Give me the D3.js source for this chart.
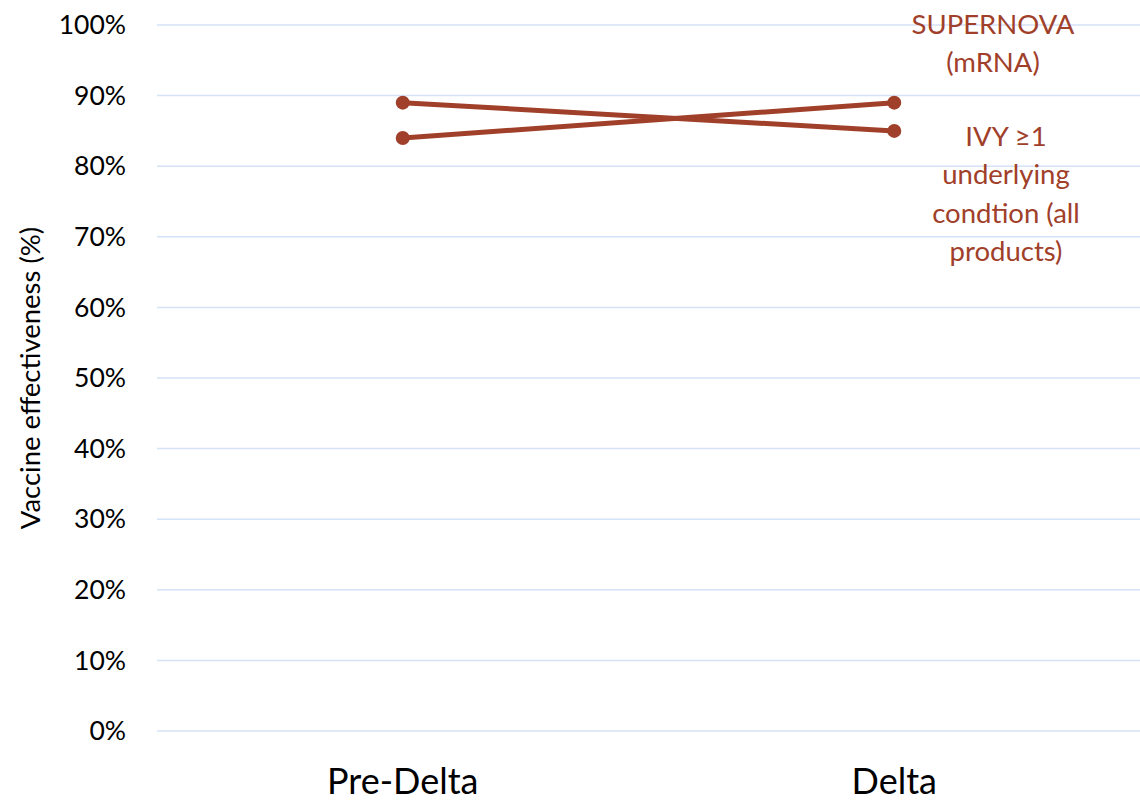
<!DOCTYPE html>
<html>
<head>
<meta charset="utf-8">
<script src="https://cdn.jsdelivr.net/npm/d3@7"></script>
<style>
  body { margin: 0; background: #fff; }
  text { font-family: Lato, "Open Sans", sans-serif; }
</style>
</head>
<body>
<svg width="1140" height="802"></svg>
<script>
var categories = ['Pre-Delta', 'Delta'];
var supernova = [84, 89];
var ivy = [89, 85];
var yTicks = [0, 10, 20, 30, 40, 50, 60, 70, 80, 90, 100];
var supernovaLabel = ['SUPERNOVA', '(mRNA)'];
var ivyLabel = ['IVY \u22651', 'underlying', 'condtion (all', 'products)'];

var LINE_COLOR = '#A0402A';
var GRID_COLOR = '#D6E2F7';

var svg = d3.select('svg');
var margin = { left: 157, right: 0, top: 25, bottom: 71 };
var width = 1140, height = 802;

var x = d3.scaleBand()
  .domain(categories)
  .range([margin.left, width - margin.right]);

var y = d3.scaleLinear()
  .domain([0, 100])
  .range([height - margin.bottom, margin.top]);

// gridlines
svg.append('g')
  .selectAll('line')
  .data(yTicks)
  .enter().append('line')
  .attr('x1', margin.left)
  .attr('x2', width)
  .attr('y1', function (d) { return y(d); })
  .attr('y2', function (d) { return y(d); })
  .style('stroke', GRID_COLOR)
  .style('stroke-width', 1.5);

// y tick labels
svg.append('g')
  .selectAll('text')
  .data(yTicks)
  .enter().append('text')
  .attr('x', 126)
  .attr('y', function (d) { return y(d); })
  .attr('dy', '0.35em')
  .attr('text-anchor', 'end')
  .style('font-size', '26.5px')
  .style('fill', '#000')
  .text(function (d) { return d + '%'; });

// category labels
svg.append('g')
  .selectAll('text')
  .data(categories)
  .enter().append('text')
  .attr('x', function (d) { return x(d) + x.bandwidth() / 2; })
  .attr('y', 794)
  .attr('text-anchor', 'middle')
  .style('font-size', '36px')
  .style('fill', '#000')
  .text(function (d) { return d; });

// y axis title
svg.append('text')
  .attr('transform', 'translate(30,378) rotate(-90)')
  .attr('text-anchor', 'middle')
  .attr('dy', '0.35em')
  .style('font-size', '27.5px')
  .style('fill', '#000')
  .text('Vaccine effectiveness (%)');

var line = d3.line()
  .x(function (d, i) { return x(categories[i]) + x.bandwidth() / 2; })
  .y(function (d) { return y(d); });

[supernova, ivy].forEach(function (series) {
  svg.append('path')
    .datum(series)
    .attr('d', line)
    .style('fill', 'none')
    .style('stroke', LINE_COLOR)
    .style('stroke-width', 5);
  svg.append('g')
    .selectAll('circle')
    .data(series)
    .enter().append('circle')
    .attr('cx', function (d, i) { return x(categories[i]) + x.bandwidth() / 2; })
    .attr('cy', function (d) { return y(d); })
    .attr('r', 7)
    .style('fill', LINE_COLOR);
});

function addLabel(lines, cx, cy0) {
  svg.append('g')
    .selectAll('text')
    .data(lines)
    .enter().append('text')
    .attr('x', cx)
    .attr('y', function (d, i) { return cy0 + i * 38.5; })
    .attr('dy', '0.35em')
    .attr('text-anchor', 'middle')
    .style('font-size', '27.5px')
    .style('fill', LINE_COLOR)
    .text(function (d) { return d; });
}

addLabel(supernovaLabel, 993, 24);
addLabel(ivyLabel, 1006, 136);
</script>
</body>
</html>
